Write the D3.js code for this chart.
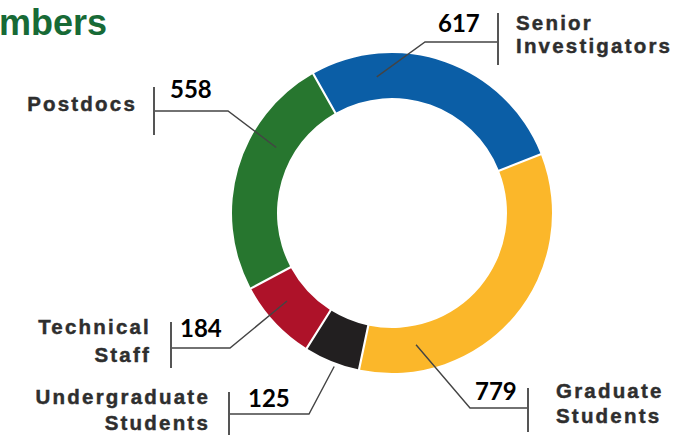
<!DOCTYPE html>
<html>
<head>
<meta charset="utf-8">
<script src="https://cdn.jsdelivr.net/npm/d3@7"></script>
<style>
  html, body { margin: 0; padding: 0; background: #fff; }
  svg { display: block; }
  .cat { font-family: "Liberation Sans", Arial, sans-serif; font-weight: bold; font-size: 20.5px; fill: #2e2e2e; stroke: #2e2e2e; stroke-width: 0.45px; letter-spacing: 2.2px; }
  .val { font-family: Lato, "Open Sans", sans-serif; font-weight: bold; font-size: 24px; fill: #000; }
</style>
</head>
<body>
<script>
// ---- data ----
const categories = ["Senior Investigators", "Graduate Students", "Undergraduate Students", "Technical Staff", "Postdocs"];
const labelLines = [["Senior", "Investigators"], ["Graduate", "Students"], ["Undergraduate", "Students"], ["Technical", "Staff"], ["Postdocs"]];
const values = [617, 779, 125, 184, 558];
const colors = ["#0b5ea6", "#fbb72a", "#221f20", "#ae1229", "#27762f"];
const title = "Members";

// ---- layout (annotation placement) ----
const W = 681, H = 435;
const cx = 392, cy = 213, rOuter = 160, rInner = 115;
const startDeg = -29.5;
const layout = [
  { t: 0.236, r: 137, elbow: [425, 42], barX: 498, barY: [13, 65], val: [438, 32], lab: [516, 30], anchor: "start", lh: 23 },
  { t: 0.82,  r: 134, elbow: [470, 408], barX: 528, barY: [388, 432], val: [475, 400], lab: [556, 398], anchor: "start", lh: 25 },
  { t: 0.43,  r: 164, elbow: [309, 414], barX: 229, barY: [392, 435], val: [248, 407], lab: [210, 404], anchor: "end", lh: 26 },
  { t: 0.6,   r: 137, elbow: [230, 348], barX: 171, barY: [322, 368], val: [180, 337], lab: [151, 334], anchor: "end", lh: 28 },
  { t: 0.65,  r: 133, elbow: [228, 111], barX: 154, barY: [87, 135], val: [170, 98], lab: [137, 111], anchor: "end", lh: 23 }
];

const svg = d3.select("body").append("svg").attr("width", W).attr("height", H);

// title (partially cropped on the left, as in the reference)
svg.append("text")
  .attr("x", 107).attr("y", 35)
  .attr("text-anchor", "end")
  .style("font-family", "'Liberation Sans', Arial, sans-serif")
  .style("font-weight", "bold")
  .style("font-size", "36px")
  .style("fill", "#176a36")
  .text(title);

const start = startDeg * Math.PI / 180;
const pie = d3.pie().sort(null).value(d => d).startAngle(start).endAngle(start + 2 * Math.PI).padAngle(0.011);
const arcs = pie(values);
const arc = d3.arc().innerRadius(rInner).outerRadius(rOuter);

const g = svg.append("g").attr("transform", `translate(${cx},${cy})`);
g.selectAll("path.slice").data(arcs).join("path")
  .attr("class", "slice")
  .attr("d", arc)
  .attr("fill", (d, i) => colors[i]);

// leaders
arcs.forEach((a, i) => {
  const L = layout[i];
  const ang = a.startAngle + (a.endAngle - a.startAngle) * L.t;
  const p = d3.pointRadial(ang, L.r);
  const anchor = [cx + p[0], cy + p[1]];
  const line = d3.line();
  svg.append("path")
    .attr("d", line([anchor, L.elbow, [L.barX, L.elbow[1]]]))
    .attr("fill", "none").attr("stroke", "#444").attr("stroke-width", 1.4);
  svg.append("line")
    .attr("x1", L.barX).attr("x2", L.barX)
    .attr("y1", L.barY[0]).attr("y2", L.barY[1])
    .attr("stroke", "#555").attr("stroke-width", 2);
  svg.append("text").attr("class", "val")
    .attr("x", L.val[0]).attr("y", L.val[1])
    .text(values[i]);
  const t = svg.append("text").attr("class", "cat")
    .attr("text-anchor", L.anchor);
  labelLines[i].forEach((s, k) => {
    t.append("tspan").attr("x", L.lab[0]).attr("y", L.lab[1] + k * L.lh).text(s);
  });
});
</script>
</body>
</html>
